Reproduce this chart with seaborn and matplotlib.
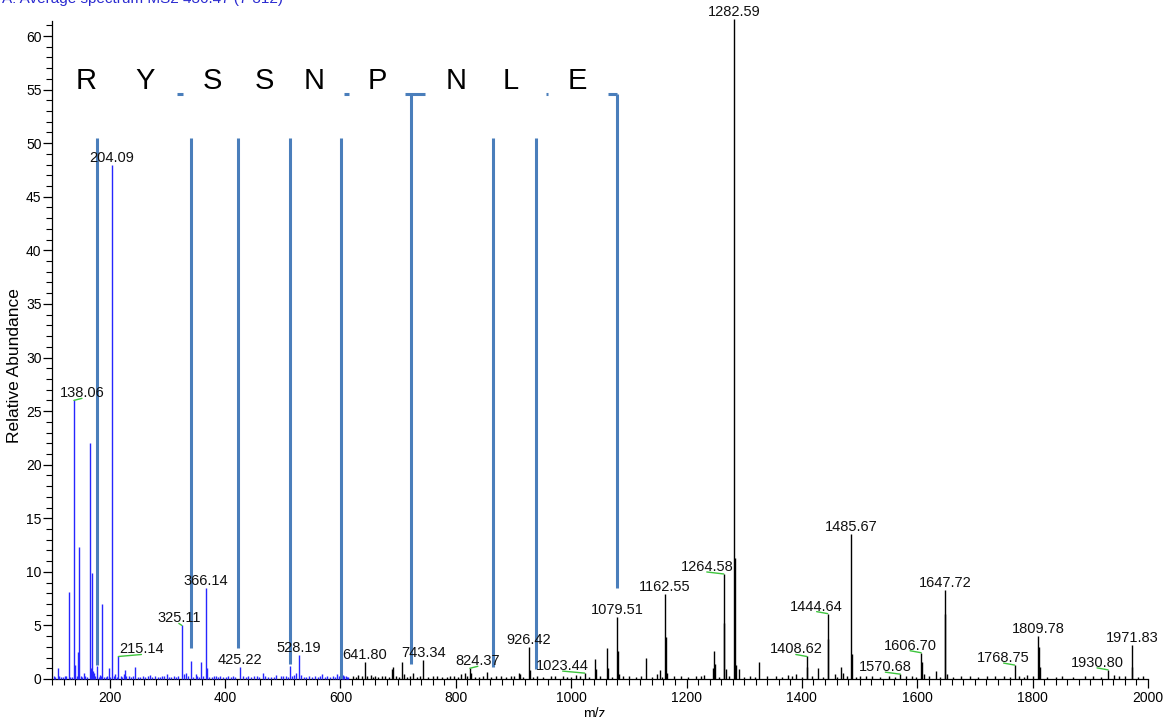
import matplotlib
matplotlib.use("Agg")
import matplotlib.pyplot as plt
from matplotlib.ticker import MultipleLocator
import numpy as np
import pandas as pd
import seaborn as sns

# ---------------- spectrum data ----------------
# major peaks (m/z, relative abundance)
peak_mz = [110.1, 129.1, 138.06, 140.1, 145.1, 147.1, 155.1, 166.1, 168.1, 169.1,
           171.1, 173.1, 178.1, 183.1, 187.1, 198.1, 204.09, 209.1, 215.14, 224.1,
           226.8, 229.1, 244.1, 270.1, 300.1, 325.11, 328.1, 331.8, 340.5, 349.1,
           358.1, 366.14, 368.1, 384.1, 405.2, 425.22, 440.2, 465.2, 488.2, 496.2,
           513.2, 520.2, 523.2, 528.19, 532.2, 567.2, 594.2, 598.3, 605.2, 610.3,
           622.3, 631.3, 641.80, 652.3, 660.3, 671.3, 689.4, 690.4, 707.4, 709.4,
           725.8, 743.34, 760.4, 790.4, 808.4, 815.4, 824.37, 826.4, 853.8, 870.4,
           895.4, 909.4, 911.4, 926.42, 928.4, 965.4, 985.4, 1008.4, 1023.44, 1041.7,
           1043.7, 1062.5, 1064.5, 1079.51, 1080.5, 1082.5, 1100.5, 1130.6, 1148.5, 1153.6,
           1162.55, 1163.6, 1165.6, 1190.5, 1215.6, 1230.6, 1245.6, 1247.6, 1249.6, 1264.58,
           1265.6, 1267.6, 1282.59, 1283.6, 1285.6, 1290.6, 1310.6, 1325.5, 1355.6, 1375.6,
           1390.6, 1408.62, 1409.6, 1427.6, 1444.64, 1445.6, 1456.6, 1468.6, 1470.6, 1485.67,
           1486.7, 1500.7, 1520.7, 1550.7, 1570.68, 1590.7, 1606.70, 1607.7, 1611.7, 1631.7,
           1647.72, 1648.7, 1650.7, 1690.7, 1720.8, 1750.8, 1768.75, 1775.8, 1790.8, 1809.78,
           1810.8, 1812.8, 1850.8, 1890.8, 1930.80, 1940.8, 1960.8, 1971.83, 1972.8, 1990.8]
peak_int = [1.0, 8.1, 26.0, 1.3, 2.5, 12.3, 0.6, 22.0, 1.0, 9.9,
            0.7, 0.6, 1.2, 0.4, 7.0, 1.0, 48.0, 0.5, 2.1, 0.5,
            0.85, 0.3, 1.15, 0.35, 0.5, 5.0, 0.5, 0.6, 1.7, 0.45,
            1.6, 8.45, 1.0, 0.3, 0.3, 1.1, 0.3, 0.6, 0.4, 0.3,
            1.25, 0.4, 0.6, 2.2, 0.4, 0.5, 0.45, 0.3, 0.35, 0.3,
            0.3, 0.35, 1.55, 0.35, 0.3, 0.3, 0.9, 1.1, 1.55, 0.5,
            0.6, 1.77, 0.3, 0.3, 0.5, 0.55, 1.0, 0.6, 0.65, 0.3,
            0.3, 0.55, 0.45, 2.95, 0.8, 0.3, 0.3, 0.4, 0.55, 1.87,
            0.9, 2.86, 1.0, 5.8, 2.6, 0.5, 0.3, 1.93, 0.5, 0.85,
            7.9, 3.95, 0.6, 0.3, 0.3, 0.4, 1.0, 2.65, 1.4, 9.8,
            5.2, 0.9, 61.6, 11.3, 1.3, 0.9, 0.3, 1.6, 0.3, 0.4,
            0.5, 2.1, 1.1, 1.0, 6.1, 3.7, 0.5, 1.1, 0.6, 13.5,
            2.3, 0.3, 0.3, 0.3, 0.45, 0.3, 2.45, 1.6, 0.5, 0.75,
            8.3, 6.1, 0.5, 0.3, 0.3, 0.3, 1.3, 0.3, 0.4, 4.0,
            3.0, 1.1, 0.3, 0.3, 0.85, 0.4, 0.3, 3.2, 1.1, 0.3]

# low-level background ions
noise_mz = [103, 106, 113, 116, 119, 122, 125, 132, 135, 143,
            150, 152, 158, 161, 175, 181, 185, 190, 193, 196,
            201, 207, 212, 219, 221, 233, 237, 240, 249, 253,
            258, 262, 266, 274, 278, 283, 287, 291, 295, 303,
            307, 311, 315, 319, 335, 344, 352, 355, 362, 372,
            377, 381, 388, 392, 397, 401, 410, 414, 418, 431,
            436, 445, 450, 455, 459, 470, 475, 480, 485, 500,
            505, 509, 516, 537, 541, 546, 551, 556, 561, 565,
            573, 577, 582, 587, 591, 603, 607, 611, 613, 600,
            627, 637, 646, 657, 666, 677, 684, 697, 702, 715,
            720, 733, 738, 751, 767, 776, 784, 797, 803, 819,
            833, 841, 847, 861, 879, 887, 901, 916, 934, 941,
            952, 972, 993, 1000, 1015, 1031, 1050, 1071, 1090, 1112,
            1121, 1140, 1158, 1178, 1202, 1225, 1257, 1273, 1300, 1318,
            1340, 1366, 1382, 1400, 1418, 1436, 1461, 1478, 1494, 1511,
            1536, 1562, 1580, 1598, 1620, 1640, 1662, 1676, 1705, 1735,
            1760, 1785, 1800, 1825, 1840, 1870, 1905, 1918, 1950, 1982]
noise_int = [0.25, 0.2, 0.3, 0.15, 0.2, 0.25, 0.3, 0.2, 0.15, 0.25,
             0.3, 0.2, 0.25, 0.2, 0.3, 0.2, 0.25, 0.2, 0.15, 0.3,
             0.2, 0.25, 0.2, 0.3, 0.15, 0.25, 0.2, 0.3, 0.2, 0.15,
             0.25, 0.2, 0.3, 0.2, 0.25, 0.15, 0.2, 0.3, 0.25, 0.2,
             0.15, 0.25, 0.2, 0.3, 0.25, 0.2, 0.3, 0.2, 0.25, 0.2,
             0.15, 0.3, 0.2, 0.25, 0.2, 0.15, 0.2, 0.3, 0.2, 0.25,
             0.2, 0.15, 0.25, 0.3, 0.2, 0.25, 0.2, 0.15, 0.2, 0.25,
             0.3, 0.2, 0.25, 0.2, 0.15, 0.3, 0.2, 0.25, 0.2, 0.3,
             0.15, 0.25, 0.2, 0.3, 0.2, 0.25, 0.3, 0.2, 0.2, 0.25,
             0.2, 0.25, 0.3, 0.2, 0.15, 0.25, 0.2, 0.3, 0.2, 0.15,
             0.25, 0.2, 0.3, 0.2, 0.25, 0.15, 0.2, 0.3, 0.2, 0.25,
             0.2, 0.15, 0.25, 0.2, 0.3, 0.2, 0.25, 0.2, 0.15, 0.3,
             0.2, 0.25, 0.2, 0.2, 0.3, 0.15, 0.25, 0.2, 0.3, 0.2,
             0.25, 0.2, 0.15, 0.3, 0.2, 0.25, 0.2, 0.3, 0.2, 0.15,
             0.25, 0.2, 0.3, 0.2, 0.25, 0.2, 0.15, 0.3, 0.2, 0.25,
             0.2, 0.2, 0.3, 0.15, 0.25, 0.2, 0.2, 0.25, 0.15, 0.3,
             0.2, 0.2, 0.25, 0.2, 0.15, 0.2, 0.25, 0.2, 0.3, 0.2]

# annotated peaks
label_mz = [138.06, 204.09, 215.14, 325.11, 366.14, 425.22, 528.19, 641.80, 743.34,
            824.37, 926.42, 1023.44, 1079.51, 1162.55, 1264.58, 1282.59, 1408.62,
            1444.64, 1485.67, 1570.68, 1606.70, 1647.72, 1768.75, 1809.78, 1930.80,
            1971.83]
# labels moved sideways (pixels) and tied back to their peak with a leader
leader_dx = {138.06: 8, 215.14: 23, 325.11: -3, 824.37: 8, 1023.44: -22,
             1264.58: -17, 1408.62: -11, 1444.64: -11, 1570.68: -15,
             1606.70: -11, 1768.75: -11, 1930.80: -11}

# peptide sequence and fragment-ion ladder
seq_letters = ["R", "Y", "S", "S", "N", "P", "N", "L", "E"]
letter_mz = [159.0, 261.5, 378.5, 468.5, 555.0, 664.0, 801.0, 896.0, 1010.0]
ion_mz = [177.9, 341.0, 422.7, 513.0, 600.5, 722.8, 863.8, 938.2, 1079.2]
ion_low = [1.3, 2.9, 2.9, 1.4, 0.0, 1.4, 1.15, 0.9, 8.5]
ion_high = [50.5, 50.5, 50.5, 50.5, 50.5, 54.6, 50.5, 50.5, 54.6]
bracket_start = [316.3, 607.0, 712.5, 956.0, 1063.7]
bracket_end = [326.6, 615.0, 746.2, 960.0, 1079.2]

# ---------------- styling ----------------
sns.set_theme(style="ticks")
plt.rcParams["font.family"] = ["Liberation Sans", "DejaVu Sans"]
plt.rcParams["axes.linewidth"] = 0.9

BLUE_LOW = "#2626ff"
LADDER = "#4a7ebb"
LEADER = "#3cc43c"

spec = pd.DataFrame({"mz": peak_mz + noise_mz, "intensity": peak_int + noise_int})
spec["region"] = np.where(spec["mz"] < 615, "low", "high")

fig = plt.figure(figsize=(11.69, 7.17), dpi=100)
ax = fig.add_axes([52 / 1169, 38 / 717, 1096 / 1169, 658 / 717])

for region, color in (("low", BLUE_LOW), ("high", "black")):
    sub = spec[spec["region"] == region]
    ax.vlines(sub["mz"], 0, sub["intensity"], colors=color, linewidth=1.0,
              clip_on=False, zorder=3)

# fragment ladder
ax.vlines(ion_mz, ion_low, ion_high, colors=LADDER, linewidth=2.2, zorder=4)
ax.hlines([54.6] * len(bracket_start), bracket_start, bracket_end, colors=LADDER,
          linewidth=2.2, zorder=4)
for letter, x in zip(seq_letters, letter_mz):
    ax.text(x, 55.05, letter, fontsize=21, ha="center", va="baseline",
            color="black", zorder=5)

# peak labels
int_of = dict(zip(peak_mz, peak_int))
for mz in label_mz:
    h = int_of[mz]
    dx = leader_dx.get(mz, 0)
    ax.annotate(f"{mz:.2f}", xy=(mz, h), xytext=(dx, 3), textcoords="offset pixels",
                ha="center", va="baseline", fontsize=10.5, color="#111111",
                annotation_clip=False, zorder=6)
    if mz in leader_dx:
        ax.annotate("", xy=(mz, h), xytext=(dx, 2), textcoords="offset pixels",
                    arrowprops=dict(arrowstyle="-", color=LEADER, lw=1.0,
                                    shrinkA=0, shrinkB=0),
                    annotation_clip=False, zorder=6)

ax.set_xlim(100, 2000)
ax.set_ylim(0, 61.4)
ax.xaxis.set_major_locator(MultipleLocator(200))
ax.xaxis.set_minor_locator(MultipleLocator(20))
ax.yaxis.set_major_locator(MultipleLocator(5))
ax.yaxis.set_minor_locator(MultipleLocator(1))
ax.tick_params(axis="both", which="major", direction="out", length=6.5, width=0.9,
               labelsize=10, color="black", labelcolor="black")
ax.tick_params(axis="both", which="minor", direction="out", length=4.3, width=0.8,
               color="black")
ax.tick_params(axis="y", which="major", pad=1)
ax.tick_params(axis="x", which="major", pad=2)
ax.set_xticks([200, 400, 600, 800, 1000, 1200, 1400, 1600, 1800, 2000])
sns.despine(ax=ax)
ax.spines["left"].set_color("black")
ax.spines["bottom"].set_color("black")
ax.set_ylabel("Relative Abundance", fontsize=12.5, color="black")
ax.yaxis.set_label_coords(-0.0275, 0.476)

fig.text(0.002, 1 - 2.5 / 717, "A: Average spectrum MS2 436.47 (7-312)", fontsize=11,
         color="#2a2ad0", ha="left", va="baseline")
fig.text(594 / 1169, -1 / 717, "m/z", fontsize=10, ha="center", va="baseline",
         color="black")

fig.savefig("out.png", dpi=100)
